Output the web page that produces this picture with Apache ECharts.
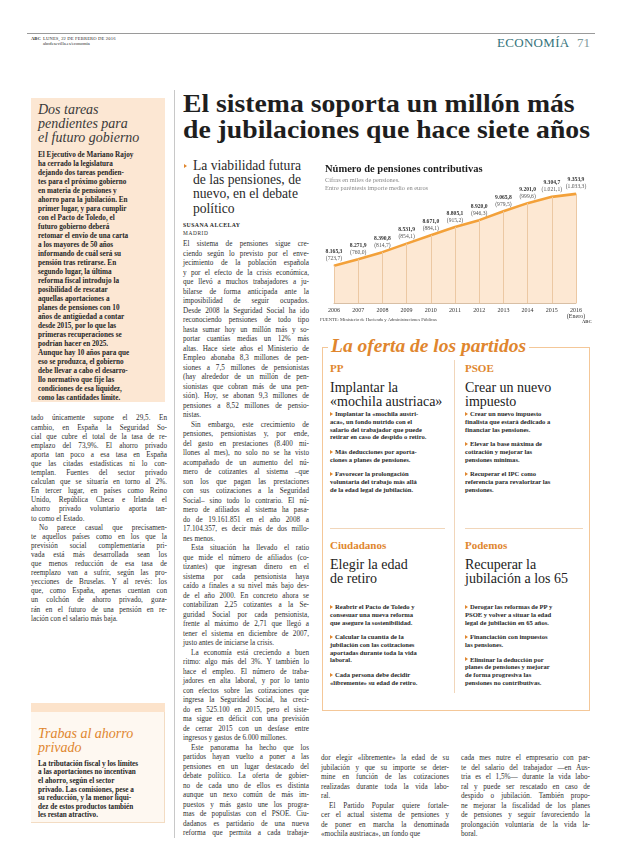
<!DOCTYPE html>
<html><head><meta charset="utf-8">
<script src="https://cdn.jsdelivr.net/npm/echarts@6/dist/echarts.min.js"></script>
<style>
html,body{margin:0;padding:0;background:#fff;}
#page{position:relative;width:620px;height:846px;overflow:hidden;font-family:"Liberation Serif",serif;color:#2a2a2a;}
</style></head><body><div id="page"></div>
<script>
// ---------------- DATA ----------------
const years = ['2006','2007','2008','2009','2010','2011','2012','2013','2014','2015','2016'];
const yearLabels = ['2006','2007','2008','2009','2010','2011','2012','2013','2014','2015','2016\n(Enero)'];
const pensions = [8165.3, 8271.9, 8390.8, 8531.9, 8671.0, 8805.1, 8920.0, 9065.8, 9201.0, 9304.7, 9353.9];
const avgAmount = [723.7, 760.0, 814.7, 854.1, 884.1, 915.2, 946.3, 979.5, 999.6, 1021.1, 1033.3];
const chartTitle = 'Número de pensiones contributivas';
const chartSub = 'Cifras en miles de pensiones.\nEntre paréntesis importe medio en euros';
const chartSource = 'FUENTE: Ministerio de Hacienda y Administraciones Públicas';

const headlineLines = ['El sistema soporta un millón más','de jubilaciones que hace siete años'];
const sidebarLines = ['El Ejecutivo de Mariano Rajoy','ha cerrado la legislatura','dejando dos tareas pendien-','tes para el próximo gobierno','en materia de pensiones y','ahorro para la jubilación. En','primer lugar, y para cumplir','con el Pacto de Toledo, el','futuro gobierno deberá','retomar el envío de una carta','a los mayores de 50 años','informando de cuál será su','pensión tras retirarse. En','segundo lugar, la última','reforma fiscal introdujo la','posibilidad de rescatar','aquellas aportaciones a','planes de pensiones con 10','años de antigüedad a contar','desde 2015, por lo que las','primeras recuperaciones se','podrían hacer en 2025.','Aunque hay 10 años para que','eso se produzca, el gobierno','debe llevar a cabo el desarro-','llo normativo que fije las','condiciones de esa liquidez,','como las cantidades límite.'];
const leftColLines = ['tado únicamente supone el 29,5. En','cambio, en España la Seguridad So-','cial que cubre el total de la tasa de re-','emplazo del 73,9%. El ahorro privado','aporta tan poco a esa tasa en España','que las citadas estadísticas ni lo con-','templan. Fuentes del sector privado','calculan que se situaría en torno al 2%.','En tercer lugar, en países como Reino','Unido, República Checa e Irlanda el','ahorro privado voluntario aporta tan-','to como el Estado.|','>No parece casual que precisamen-','te aquellos países como en los que la','previsión social complementaria pri-','vada está más desarrollada sean los','que menos reducción de esa tasa de','reemplazo van a sufrir, según las pro-','yecciones de Bruselas. Y al revés: los','que, como España, apenas cuentan con','un colchón de ahorro privado, goza-','rán en el futuro de una pensión en re-','lación con el salario más baja.|'];
const trabasLines = ['La tributación fiscal y los límites','a las aportaciones no incentivan','el ahorro, según el sector','privado. Las comisiones, pese a','su reducción, y la menor liqui-','dez de estos productos también','les restan atractivo.'];
const mainLines = ['El sistema de pensiones sigue cre-','ciendo según lo previsto por el enve-','jecimiento de la población española','y por el efecto de la crisis económica,','que llevó a muchos trabajadores a ju-','bilarse de forma anticipada ante la','imposibilidad de seguir ocupados.','Desde 2008 la Seguridad Social ha ido','reconociendo pensiones de todo tipo','hasta sumar hoy un millón más y so-','portar cuantías medias un 12% más','altas. Hace siete años el Ministerio de','Empleo abonaba 8,3 millones de pen-','siones a 7,5 millones de pensionistas','(hay alrededor de un millón de pen-','sionistas que cobran más de una pen-','sión). Hoy, se abonan 9,3 millones de','pensiones a 8,52 millones de pensio-','nistas.|','>Sin embargo, este crecimiento de','pensiones, pensionistas y, por ende,','del gasto en prestaciones (8.400 mi-','llones al mes), no solo no se ha visto','acompañado de un aumento del nú-','mero de cotizantes al sistema –que','son los que pagan las prestaciones','con sus cotizaciones a la Seguridad','Social– sino todo lo contrario. El nú-','mero de afiliados al sistema ha pasa-','do de 19.161.851 en el año 2008 a','17.104.357, es decir más de dos millo-','nes menos.|','>Esta situación ha llevado el ratio','que mide el número de afiliados (co-','tizantes) que ingresan dinero en el','sistema por cada pensionista haya','caído a finales a su nivel más bajo des-','de el año 2000. En concreto ahora se','contabilizan 2,25 cotizantes a la Se-','guridad Social por cada pensionista,','frente al máximo de 2,71 que llegó a','tener el sistema en diciembre de 2007,','justo antes de iniciarse la crisis.|','>La economía está creciendo a buen','ritmo: algo más del 3%. Y también lo','hace el empleo. El número de traba-','jadores en alta laboral, y por lo tanto','con efectos sobre las cotizaciones que','ingresa la Seguridad Social, ha creci-','do en 525.100 en 2015, pero el siste-','ma sigue en déficit con una previsión','de cerrar 2015 con un desfase entre','ingresos y gastos de 6.000 millones.|','>Este panorama ha hecho que los','partidos hayan vuelto a poner a las','pensiones en un lugar destacado del','debate político. La oferta de gobier-','no de cada uno de ellos es distinta','aunque un nexo común de más im-','puestos y más gasto une los progra-','mas de populistas con el PSOE. Ciu-','dadanos es partidario de una nueva','reforma que permita a cada trabaja-'];
const bottomLeftLines = ['dor elegir «libremente» la edad de su','jubilación y que su importe se deter-','mine en función de las cotizaciones','realizadas durante toda la vida labo-','ral.|','>El Partido Popular quiere fortale-','cer el actual sistema de pensiones y','de poner en marcha la denominada','«mochila austriaca», un fondo que|'];
const bottomRightLines = ['cada mes nutre el empresario con par-','te del salario del trabajador —en Aus-','tria es el 1,5%— durante la vida labo-','ral y puede ser rescatado en caso de','despido o jubilación. También propo-','ne mejorar la fiscalidad de los planes','de pensiones y seguir favoreciendo la','prolongación voluntaria de la vida la-','boral.|'];
const parties = [
  {name:'PP', head:['Implantar la','«mochila austriaca»'], bullets:[['Implantar la «mochila austri-','aca», un fondo nutrido con el','salario del trabajador que puede','retirar en caso de despido o retiro.'],['Más deducciones por aporta-','ciones a planes de pensiones.'],['Favorecer la prolongación','voluntaria del trabajo más allá','de la edad legal de jubilación.']]},
  {name:'PSOE', head:['Crear un nuevo','impuesto'], bullets:[['Crear un nuevo impuesto','finalista que estará dedicado a','financiar las pensiones.'],['Elevar la base máxima de','cotización y mejorar las','pensiones mínimas.'],['Recuperar el IPC como','referencia para revalorizar las','pensiones.']]},
  {name:'Ciudadanos', head:['Elegir la edad','de retiro'], bullets:[['Reabrir el Pacto de Toledo y','consesuar una nueva reforma','que asegure la sostenibilidad.'],['Calcular la cuantía de la','jubilación con las cotizaciones','aportadas durante toda la vida','laboral.'],['Cada persona debe decidir','«libremente» su edad de retiro.']]},
  {name:'Podemos', head:['Recuperar la','jubilación a los 65'], bullets:[['Derogar las reformas de PP y','PSOE y volver a situar la edad','legal de jubilación en 65 años.'],['Financiación con impuestos','las pensiones.'],['Eliminar la deducción por','planes de pensiones y mejorar','de forma progresiva las','pensiones no contributivas.']]}
];

// ---------------- LAYOUT HELPERS ----------------
const page = document.getElementById('page');
const ORANGE = '#e0862e';
function el(css, text){ const d=document.createElement('div'); d.style.cssText='position:absolute;'+css; if(text!=null) d.textContent=text; page.appendChild(d); return d; }
function line(x, yc, w, text, fs, lh, extra, justify, stretch){
  const d = el(`left:${x}px;top:${yc-lh/2}px;height:${lh}px;line-height:${lh}px;font-size:${fs}px;white-space:nowrap;${extra||''}`, text);
  if (w){
    const nat = d.getBoundingClientRect().width;
    if (nat > w || stretch){ d.style.transformOrigin='0 50%'; d.style.transform=`scaleX(${w/nat})`; }
    else if (justify){ const n=(text.match(/ /g)||[]).length; if(n) d.style.wordSpacing=((w-nat)/n)+'px'; }
  }
  return d;
}
function block(x, y0, w, lh, fs, arr, extra, justify){
  arr.forEach((t,i)=>{ let ind=0,end=false; if(t.startsWith('>')){ind=8;t=t.slice(1);} if(t.endsWith('|')){end=true;t=t.slice(0,-1);} line(x+ind, y0+i*lh, w-ind, t, fs, lh, extra, justify && !end); });
}
function tri(x, yc, c){ el(`left:${x}px;top:${yc-2.2}px;width:0;height:0;border-left:3.6px solid ${c||ORANGE};border-top:2.2px solid transparent;border-bottom:2.2px solid transparent;`); }

// ---------------- HEADER ----------------
el('left:27px;top:33px;width:568px;height:1px;background:#9a9a9a;');
line(31, 38.5, 0, 'ABC', 4.6, 5, 'font-weight:bold;');
line(43, 38.5, 0, 'LUNES, 22 DE FEBRERO DE 2016', 4.6, 5, 'letter-spacing:0.15px;');
line(43, 43.5, 0, 'abcdesevilla.es/economia', 4.6, 5, '');
line(497, 43, 0, 'ECONOMÍA', 13, 14, 'color:#35737b;letter-spacing:0.3px;');
line(577, 43, 0, '71', 13, 14, 'color:#7f9a9c;');

// ---------------- SIDEBAR ----------------
el('left:31px;top:98px;width:134px;height:304px;background:#fce7d3;');
['Dos tareas','pendientes para','el futuro gobierno'].forEach((t,i)=>line(38, 110+i*14, 0, t, 14, 14, 'font-style:italic;color:#3a3a3a;'));
block(38, 155, 124, 9.0, 7.2, sidebarLines, 'font-weight:bold;color:#262626;', false);

// left column
block(31, 419, 136, 9.1, 7.2, leftColLines, 'color:#2e2e2e;', true);

// Trabas box
el('left:31px;top:703px;width:134px;height:9px;background:#fce3cb;');
el('left:31px;top:712px;width:133px;height:110px;background:#fef8f1;border-right:1px solid #f3dcc3;border-bottom:1px solid #f3dcc3;');
['Trabas al ahorro','privado'].forEach((t,i)=>line(38, 734+i*14, 0, t, 14, 14, `font-style:italic;color:${ORANGE};`));
block(38, 764, 124, 8.6, 7.2, trabasLines, 'font-weight:bold;color:#262626;', false);

// ---------------- HEADLINE ----------------
el('left:174px;top:90px;width:1px;height:748px;background:#c8c8c8;');
const hl = el('left:183px;top:91px;line-height:26px;font-size:26px;white-space:nowrap;font-weight:bold;color:#1e1e1e;');
hl.innerHTML = headlineLines.join('<br>');
{ const nat = hl.getBoundingClientRect().width; hl.style.transformOrigin='0 0'; hl.style.transform=`scaleX(${407/nat})`; }

tri(184, 166);
['La viabilidad futura','de las pensiones, de','nuevo, en el debate','político'].forEach((t,i)=>line(193, 166+i*14.3, 0, t, 13.6, 14.3, 'color:#2a2a2a;'));
line(183, 225, 0, 'SUSANA ALCELAY', 5.8, 7, 'font-weight:bold;letter-spacing:0.4px;');
line(183, 233, 0, 'MADRID', 5.4, 7, 'letter-spacing:0.6px;');
block(183, 245, 126, 9.5, 7.2, mainLines, 'color:#2e2e2e;', true);

// ---------------- CHART ----------------
const chartDiv = el('left:318px;top:150px;width:282px;height:185px;');
function fmt(n){ const s=n.toFixed(1).split('.'); return s[0].replace(/\B(?=(\d{3})+(?!\d))/g,'.')+','+s[1]; }
const FF = 'Liberation Serif';
const Y_MIN = 7550, Y_MAX = 9600;
const chart = echarts.init(chartDiv, null, {renderer:'canvas'});
chart.setOption({
  animation:false,
  title:{text:chartTitle, subtext:chartSub, left:2, top:9, itemGap:2,
    textStyle:{fontFamily:FF, fontWeight:'bold', fontSize:10.5, color:'#1e1e1e'},
    subtextStyle:{fontFamily:FF, fontSize:6.4, color:'#8a8a8a', lineHeight:7.5}},
  grid:{left:16, right:24, top:29, bottom:32},
  xAxis:{type:'category', data:yearLabels, boundaryGap:false,
    axisLine:{show:true, lineStyle:{color:'#d8bfa5', width:1}}, axisTick:{show:false},
    axisLabel:{interval:0, fontFamily:FF, fontSize:6, color:'#333', margin:4, lineHeight:6.5}},
  yAxis:{type:'value', min:Y_MIN, max:Y_MAX, show:false, splitLine:{show:false}},
  series:[
    {type:'line', data:pensions, symbol:'none', lineStyle:{width:0, opacity:0}, areaStyle:{color:'#fde8d3', opacity:1}, z:1, silent:true,
      markLine:{silent:true, symbol:['none','none'], label:{show:false}, animation:false,
        lineStyle:{color:'#ecc8a3', width:1, type:'solid'},
        data: pensions.map((v,i)=>[{xAxis:i, yAxis:Y_MIN}, {xAxis:i, yAxis:v}])}},
    {type:'line', data:pensions, symbol:'circle', symbolSize:1, showSymbol:true, itemStyle:{color:'#f3a13a'},
      lineStyle:{color:'#f3a13a', width:2.6}, z:3, silent:true,
      label:{show:true, position:'top', distance:3,
        formatter:p=>`{v|${fmt(pensions[p.dataIndex])}}\n{p|(${fmt(avgAmount[p.dataIndex])})}`,
        rich:{v:{fontFamily:FF, fontWeight:'bold', fontSize:5.6, color:'#333', lineHeight:7},
              p:{fontFamily:FF, fontSize:5.6, color:'#555', lineHeight:7}}}}
  ],
  graphic:[
    {type:'text', left:2, top:167, style:{text:chartSource, font:'4.6px "Liberation Serif"', fill:'#444'}},
    {type:'text', left:264, top:169, style:{text:'ABC', font:'bold 4.6px "Liberation Serif"', fill:'#444'}}
  ]
});

// ---------------- OFERTA BOX ----------------
el('left:322px;top:347px;width:266px;height:362px;border:1px solid #f4c798;');
line(328, 345, 0, ' La oferta de los partidos ', 19.5, 19, `font-style:italic;font-weight:bold;color:${ORANGE};background:#fff;padding:0 3px;`);
el('left:454px;top:360px;width:1px;height:333px;background:#f1d6ba;');
el('left:330px;top:528px;width:115px;height:1px;background:#f1d6ba;');
el('left:465px;top:528px;width:118px;height:1px;background:#f1d6ba;');
const cols = [[330,368],[465,368],[330,545],[465,545]];
const bulletStarts = [414,414,607,607];
parties.forEach((pt,k)=>{
  const [x,y]=cols[k];
  line(x, y, 0, pt.name, 11, 12, `font-weight:bold;color:${ORANGE};`);
  pt.head.forEach((t,i)=>line(x, y+20+i*14, 0, t, 14, 14, 'color:#222;'));
  let yy = bulletStarts[k];
  pt.bullets.forEach(b=>{
    tri(x, yy);
    b.forEach((t,i)=>line(i===0?x+5:x, yy+i*7.7, 118, t, 6.6, 7.7, 'font-weight:bold;color:#2a2a2a;', false));
    yy += b.length*7.7 + 7;
  });
});

// bottom columns
block(321, 759, 128, 9.5, 7.2, bottomLeftLines, 'color:#2e2e2e;', true);
block(461, 759, 129, 9.5, 7.2, bottomRightLines, 'color:#2e2e2e;', true);
</script>
</body></html>
